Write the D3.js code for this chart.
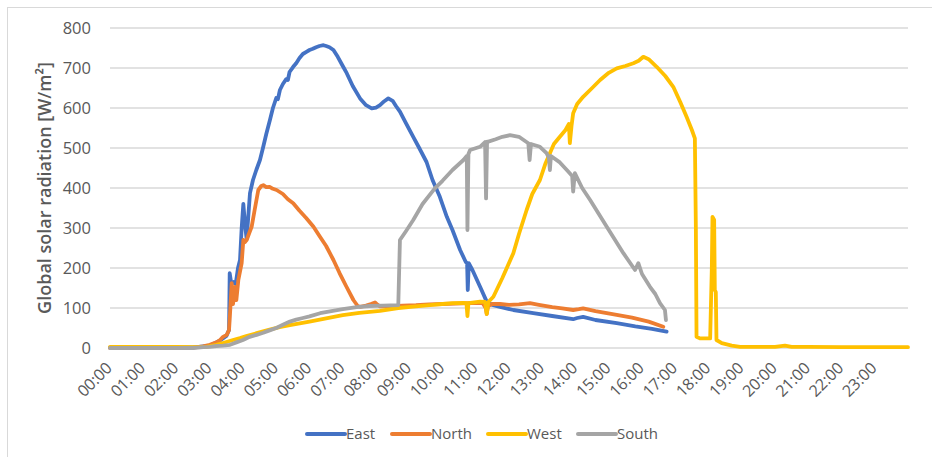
<!DOCTYPE html>
<html><head><meta charset="utf-8">
<script src="https://cdn.jsdelivr.net/npm/d3@7"></script>
<style>body{margin:0;background:#fff} svg{display:block}</style>
</head><body><svg id="c" width="932" height="457"></svg>
<script>
const hourLabels = ["00:00","01:00","02:00","03:00","04:00","05:00","06:00","07:00","08:00","09:00","10:00","11:00","12:00","13:00","14:00","15:00","16:00","17:00","18:00","19:00","20:00","21:00","22:00","23:00"];
const yTicks = [0,100,200,300,400,500,600,700,800];
const seriesNames = ["East","North","West","South"];
const seriesColors = ["#4472c4","#ed7d31","#ffc000","#a5a5a5"];

// [hour of day, W/m²]
const eastData = [[0,1],[1,1],[2,1],[2.6,2],[3.0,6],[3.3,18],[3.5,30],[3.58,45],[3.6,187],[3.65,160],[3.72,165],[3.78,160],[3.85,200],[3.91,220],[3.96,300],[4.01,360],[4.06,310],[4.11,272],[4.16,330],[4.21,387],[4.3,420],[4.4,445],[4.51,470],[4.6,500],[4.7,535],[4.81,570],[4.9,600],[5.0,625],[5.05,622],[5.11,645],[5.2,660],[5.3,672],[5.35,670],[5.4,690],[5.51,703],[5.6,712],[5.7,725],[5.8,735],[5.92,741],[6.0,745],[6.1,748],[6.2,752],[6.3,755],[6.42,757],[6.5,755],[6.6,752],[6.72,745],[6.85,728],[7.0,705],[7.12,687],[7.3,655],[7.52,624],[7.7,607],[7.87,599],[8.0,601],[8.12,607],[8.25,617],[8.37,624],[8.5,618],[8.6,605],[8.72,591],[8.9,562],[9.12,528],[9.3,500],[9.52,465],[9.7,420],[9.92,378],[10.13,328],[10.3,295],[10.53,245],[10.7,215],[10.74,212],[10.76,145],[10.79,212],[10.9,195],[11.13,153],[11.33,116],[11.5,108],[11.73,103],[12.13,95],[12.73,87],[13.3,80],[13.93,72],[14.05,75],[14.23,78],[14.6,70],[15.24,62],[15.8,54],[16.3,48],[16.74,41]];
const northData = [[0,0],[2.5,1],[2.8,4],[3.0,8],[3.2,14],[3.31,20],[3.4,28],[3.51,33],[3.58,45],[3.62,100],[3.66,162],[3.7,110],[3.76,153],[3.8,120],[3.86,170],[3.96,212],[4.01,270],[4.06,265],[4.11,270],[4.2,290],[4.26,303],[4.35,345],[4.46,395],[4.55,405],[4.61,407],[4.7,402],[4.8,403],[4.9,398],[5.01,395],[5.2,385],[5.35,372],[5.51,362],[5.7,343],[5.9,325],[6.12,303],[6.3,280],[6.5,255],[6.72,220],[6.9,188],[7.1,155],[7.32,120],[7.45,105],[7.52,103],[7.7,106],[7.85,110],[7.97,114],[8.05,108],[8.12,104],[8.4,104],[8.8,106],[9.2,107],[9.6,109],[10.0,110],[10.4,111],[10.8,112],[11.2,113],[11.3,100],[11.33,85],[11.37,105],[11.5,110],[11.73,110],[12.0,108],[12.3,109],[12.63,112],[12.9,108],[13.3,102],[13.6,99],[13.93,95],[14.1,97],[14.23,99],[14.6,92],[15.24,83],[15.7,76],[16.2,66],[16.64,53]];
const westData = [[0,3],[1,3],[2,3],[2.6,2],[2.9,3],[3.2,8],[3.5,15],[3.7,20],[3.91,25],[4.1,30],[4.41,37],[4.8,46],[5.1,52],[5.41,57],[6.0,66],[6.5,74],[7.0,82],[7.5,88],[8.12,93],[8.67,100],[9.2,104],[9.62,107],[10.0,110],[10.3,112],[10.63,113],[10.72,112],[10.75,80],[10.78,112],[11.13,116],[11.28,115],[11.33,85],[11.38,115],[11.53,128],[11.8,175],[12.13,237],[12.3,285],[12.53,345],[12.7,385],[12.93,420],[13.1,462],[13.23,487],[13.35,510],[13.53,528],[13.7,545],[13.8,560],[13.83,512],[13.88,555],[13.93,587],[14.05,610],[14.23,628],[14.5,650],[14.74,670],[15.0,688],[15.24,699],[15.5,705],[15.74,712],[15.9,718],[16.04,728],[16.2,722],[16.44,703],[16.7,680],[16.94,653],[17.15,615],[17.34,578],[17.5,545],[17.59,524],[17.62,300],[17.64,28],[17.74,24],[18.05,24],[18.1,200],[18.12,328],[18.17,320],[18.19,145],[18.22,140],[18.24,20],[18.4,12],[18.7,6],[18.95,3],[19.5,3],[20.0,3],[20.3,6],[20.5,3],[21,3],[22,2],[23,2],[24,2]];
const southData = [[0,0],[2.5,0],[2.8,2],[3.0,3],[3.2,5],[3.4,6],[3.61,8],[3.8,14],[4.0,20],[4.2,28],[4.41,33],[4.61,38],[4.8,44],[5.0,50],[5.2,58],[5.41,66],[5.6,71],[5.8,75],[6.0,79],[6.32,87],[6.7,93],[7.0,97],[7.42,102],[7.8,105],[8.2,106],[8.67,107],[8.72,270],[8.9,292],[9.12,320],[9.4,360],[9.77,399],[10.0,418],[10.3,445],[10.63,470],[10.73,480],[10.75,295],[10.78,485],[10.83,495],[11.13,503],[11.28,515],[11.31,374],[11.34,516],[11.38,516],[11.6,522],[11.8,528],[12.03,532],[12.3,528],[12.58,512],[12.62,470],[12.66,510],[12.93,503],[13.13,487],[13.2,475],[13.23,445],[13.26,480],[13.53,464],[13.78,441],[13.9,430],[13.93,391],[13.98,437],[14.2,400],[14.44,370],[14.94,303],[15.44,237],[15.79,195],[15.89,212],[16.0,185],[16.24,153],[16.4,135],[16.54,112],[16.69,95],[16.72,70]];

const allSeries = [eastData, northData, westData, southData];

const svg = d3.select("#c");
const W = 932, H = 457;
const txt = "#595959";

svg.append("rect").attr("x",7.5).attr("y",7.5).attr("width",W).attr("height",H)
  .attr("fill","#fff").attr("stroke","#d9d9d9").attr("stroke-width",1);

const x = d3.scaleLinear().domain([0,24]).range([110,908]);
const y = d3.scaleLinear().domain([0,800]).range([348,28]);

// grid
svg.append("g").selectAll("line").data(yTicks).join("line")
  .attr("x1",x(0)).attr("x2",x(24))
  .attr("y1",d=>y(d)).attr("y2",d=>y(d))
  .attr("stroke","#d9d9d9").attr("stroke-width",1.3);

// y axis labels
const yAxis = d3.axisLeft(y).tickValues(yTicks).tickSize(0).tickPadding(0);
const gy = svg.append("g").attr("transform","translate(91,0)").call(yAxis);
gy.select(".domain").remove();
gy.selectAll("text").attr("font-family","'Open Sans', sans-serif").attr("font-size",16.5).attr("fill",txt);

// x axis labels
const xAxis = d3.axisBottom(x).tickValues(d3.range(hourLabels.length)).tickFormat(i=>hourLabels[i]).tickSize(0);
const gx = svg.append("g").call(xAxis);
gx.select(".domain").remove();
gx.selectAll(".tick").attr("transform", d=>`translate(${x(d)+3},369)`);
gx.selectAll("text").attr("y",0).attr("dy",0).attr("x",0)
  .attr("text-anchor","end").attr("transform","rotate(-45)")
  .attr("font-family","'Open Sans', sans-serif").attr("font-size",16).attr("fill",txt);

// y title
svg.append("text").attr("transform","translate(51,188) rotate(-90)")
  .attr("text-anchor","middle").attr("font-family","'Open Sans', sans-serif")
  .attr("font-size",18).attr("font-weight",600).attr("fill",txt)
  .text("Global solar radiation [W/m²]");

// lines
const line = d3.line().x(d=>x(d[0])).y(d=>y(d[1]));
svg.append("g").selectAll("path").data(allSeries).join("path")
  .attr("d",line).attr("fill","none")
  .attr("stroke",(d,i)=>seriesColors[i]).attr("stroke-width",3.8)
  .attr("stroke-linejoin","round").attr("stroke-linecap","round");

// legend
const legX = [307,392,488,578];
const lg = svg.append("g").selectAll("g").data(seriesNames).join("g")
  .attr("transform",(d,i)=>`translate(${legX[i]},434)`);
lg.append("line").attr("x1",0).attr("x2",38).attr("y1",0).attr("y2",0)
  .attr("stroke",(d,i)=>seriesColors[i]).attr("stroke-width",4).attr("stroke-linecap","round");
lg.append("text").attr("x",39).attr("y",0).attr("dy","0.35em")
  .attr("font-family","'Open Sans', sans-serif").attr("font-size",15).attr("fill",txt)
  .text(d=>d);
</script></body></html>
